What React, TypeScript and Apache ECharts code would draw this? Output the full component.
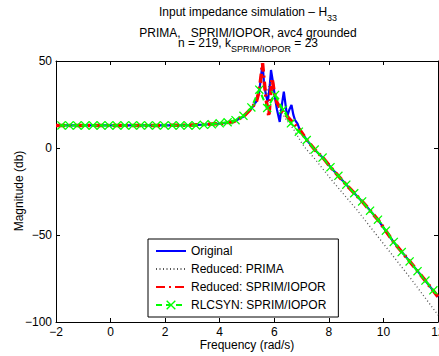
import React, { useEffect, useRef } from 'react';
import * as echarts from 'echarts';

// Original response
const origX = [-2, -1, 0, 1, 2, 3, 3.5, 4, 4.5, 4.86, 5.17, 5.35, 5.45, 5.52, 5.57, 5.62, 5.7, 5.76, 5.83, 5.88, 5.95, 6.02, 6.1, 6.2, 6.28, 6.35, 6.42, 6.47, 6.55, 6.63, 6.7, 6.76, 6.85, 6.94, 7.19, 7.49, 7.8, 8.1, 8.65, 8.96, 9.26, 9.81, 10.36, 10.97, 11.52, 12];
const origY = [13, 13, 13, 13, 13, 13.2, 13.5, 14, 15.1, 18, 22.8, 27, 32.4, 42, 48.7, 38, 30, 26.6, 35, 44.8, 38, 29.5, 22, 15, 25, 32.4, 24, 18, 22, 24.7, 19, 16, 14, 10.3, 4.6, -1.1, -5.9, -11.7, -21.3, -26.4, -31.4, -41.4, -53.8, -65.3, -75.9, -85.5];

// Reduced: PRIMA
const primaX = [-2, 0, 2, 3, 4, 4.5, 4.86, 5.17, 5.45, 5.55, 5.7, 5.85, 6.0, 6.2, 6.45, 6.7, 7.0, 7.19, 7.5, 8.16, 9, 10, 11, 12];
const primaY = [13, 13, 13, 13.2, 14, 15, 18, 23, 33, 42, 30, 38, 30, 22, 16, 11, 3, -1, -6.5, -19.5, -35, -55, -75, -96];

// Reduced: SPRIM/IOPOR
const sprimX = [-2, 0, 2, 3, 4, 4.5, 4.86, 5.17, 5.35, 5.45, 5.52, 5.57, 5.62, 5.7, 5.8, 5.86, 5.92, 6.0, 6.1, 6.3, 6.6, 6.94, 7.19, 7.49, 7.8, 8.1, 8.65, 8.96, 9.26, 9.81, 10.36, 10.97, 11.52, 12];
const sprimY = [13, 13, 13, 13.2, 14, 15.1, 18, 22.8, 27, 33, 42, 48.7, 40, 28, 18, 30, 40, 32, 26, 21, 16, 10.3, 4.6, -1.1, -5.9, -11.7, -21.3, -26.4, -31.4, -41.4, -53.8, -65.3, -75.9, -85.5];

// RLCSYN: SPRIM/IOPOR (marker samples)
const rlcX = [-1.8, -1.51, -1.22, -0.93, -0.64, -0.35, -0.06, 0.23, 0.52, 0.81, 1.1, 1.39, 1.68, 1.97, 2.26, 2.55, 2.84, 3.13, 3.42, 3.71, 4.0, 4.29, 4.58, 4.87, 5.16, 5.45, 5.74, 6.03, 6.32, 6.61, 6.9, 7.19, 7.48, 7.77, 8.06, 8.35, 8.64, 8.93, 9.22, 9.51, 9.8, 10.09, 10.38, 10.67, 10.96, 11.25, 11.54, 11.83];
const rlcY = [13, 13, 13, 13, 13, 13, 13, 13, 13, 13, 13, 13, 13, 13, 13, 13, 13, 13, 13.3, 13.6, 14.2, 14.8, 16, 18.5, 23.3, 33.5, 23, 30.5, 22, 14.2, 9.4, 4.6, -0.9, -5.5, -11, -16, -21.1, -26, -30.7, -36, -41.2, -47.5, -54, -59.8, -65.2, -70.8, -76.2, -81.8];
const rlcEnd = [12, -85.5];

const seriesNames = ['Original', 'Reduced: PRIMA', 'Reduced: SPRIM/IOPOR', 'RLCSYN: SPRIM/IOPOR'];
const xMin = -2, xMax = 12, xStep = 2;
const yMin = -100, yMax = 50, yStep = 50;

const FONT = 'Liberation Sans, Arial, sans-serif';
const fmt = (v: number) => String(v).replace('-', '\u2212');
const zip = (xs: number[], ys: number[]) => xs.map((x, i) => [x, ys[i]]);
const X_PATH = 'path://M1,0L5,4L9,0L10,1L6,5L10,9L9,10L5,6L1,10L0,9L4,5L0,1Z';
const hiddenSymbol = { color: 'rgba(0,0,0,0)', borderColor: 'rgba(0,0,0,0)', borderWidth: 0, opacity: 0 };

export default function App() {
  const ref = useRef<HTMLDivElement>(null);
  useEffect(() => {
    if (!ref.current) return;
    const chart = echarts.init(ref.current, undefined, { renderer: 'svg' });
    const axisCommon = {
      type: 'value' as const,
      axisLine: { show: true, onZero: false, lineStyle: { color: '#000', width: 1 } },
      axisTick: { show: true, inside: true, length: 4, lineStyle: { color: '#000' } },
      splitLine: { show: false },
    };
    chart.setOption({
      animation: false,
      backgroundColor: '#fff',
      grid: { left: 56, right: 1, top: 61, bottom: 34, containLabel: false, outerBoundsMode: 'none' },
      xAxis: [
        {
          ...axisCommon, min: xMin, max: xMax, interval: xStep, position: 'bottom',
          axisLabel: { formatter: fmt, color: '#000', fontSize: 12, fontFamily: FONT, margin: 4, hideOverlap: false },
        },
        {
          ...axisCommon, min: xMin, max: xMax, interval: xStep, position: 'top',
          axisLabel: { show: false },
        },
      ],
      yAxis: [
        {
          ...axisCommon, min: yMin, max: yMax, interval: yStep, position: 'left',
          axisLabel: { formatter: fmt, color: '#000', fontSize: 12, fontFamily: FONT, margin: 4 },
        },
        {
          ...axisCommon, min: yMin, max: yMax, interval: yStep, position: 'right',
          axisLabel: { show: false },
        },
      ],
      legend: {
        data: [
          { name: seriesNames[0], itemStyle: hiddenSymbol },
          { name: seriesNames[1], itemStyle: hiddenSymbol },
          { name: seriesNames[2], itemStyle: hiddenSymbol },
          { name: seriesNames[3] },
        ],
        orient: 'vertical',
        left: 148,
        top: 239,
        padding: [6, 12, 6, 7],
        itemGap: 6,
        itemWidth: 30,
        itemHeight: 12,
        backgroundColor: '#fff',
        borderColor: '#000',
        borderWidth: 1,
        borderRadius: 0,
        textStyle: { color: '#000', fontSize: 12, fontFamily: FONT },
      },
      graphic: [
        {
          type: 'text', x: 248, y: 6,
          style: {
            text: '{m|Input impedance simulation \u2013 H}{s|33}',
            align: 'center', verticalAlign: 'top',
            rich: {
              m: { fontSize: 12, fontFamily: FONT, fill: '#000', verticalAlign: 'top' },
              s: { fontSize: 9, fontFamily: FONT, fill: '#000', verticalAlign: 'top', padding: [7, 0, 0, 0] },
            },
          },
        },
        {
          type: 'text', x: 248, y: 33,
          style: {
            text: 'PRIMA,   SPRIM/IOPOR, avc4 grounded',
            align: 'center', verticalAlign: 'middle', fontSize: 12, fontFamily: FONT, fill: '#000',
          },
        },
        {
          type: 'text', x: 248, y: 37,
          style: {
            text: '{m|n = 219, k}{s|SPRIM/IOPOR}{m| = 23}',
            align: 'center', verticalAlign: 'top',
            rich: {
              m: { fontSize: 12, fontFamily: FONT, fill: '#000', verticalAlign: 'top' },
              s: { fontSize: 9, fontFamily: FONT, fill: '#000', verticalAlign: 'top', padding: [7.5, 0, 0, 0] },
            },
          },
        },
        {
          type: 'text', x: 247, y: 345,
          style: { text: 'Frequency (rad/s)', align: 'center', verticalAlign: 'middle', fontSize: 12, fontFamily: FONT, fill: '#000' },
        },
        {
          type: 'text', x: 19, y: 191, rotation: Math.PI / 2,
          style: { text: 'Magnitude (db)', align: 'center', verticalAlign: 'middle', fontSize: 12, fontFamily: FONT, fill: '#000' },
        },
      ],
      series: [
        {
          name: seriesNames[0], type: 'line', data: zip(origX, origY), showSymbol: false, symbol: 'none',
          lineStyle: { color: '#0000ff', width: 2.2 }, itemStyle: { color: '#0000ff' }, z: 2,
        },
        {
          name: seriesNames[1], type: 'line', data: zip(primaX, primaY), symbol: 'none',
          lineStyle: { color: '#555', width: 1.3, type: [1, 2.5] }, itemStyle: { color: '#555' }, z: 3,
        },
        {
          name: seriesNames[2], type: 'line', data: zip(sprimX, sprimY), symbol: 'none',
          lineStyle: { color: '#ff0000', width: 3.5, type: [9, 4, 2, 4] }, itemStyle: { color: '#ff0000' }, z: 4,
        },
        {
          name: seriesNames[3], type: 'line',
          data: [...zip(rlcX, rlcY), { value: rlcEnd, symbol: 'none' }],
          symbol: X_PATH, symbolSize: 9, showAllSymbol: true,
          lineStyle: { color: '#00ff00', width: 2, type: [6, 4] }, itemStyle: { color: '#00ff00' }, z: 5,
        },
      ],
    });
    return () => chart.dispose();
  }, []);
  return (
    <div
      ref={ref}
      style={{ position: 'absolute', left: 0, top: 0, width: 439, height: 356, background: '#fff' }}
    />
  );
}
